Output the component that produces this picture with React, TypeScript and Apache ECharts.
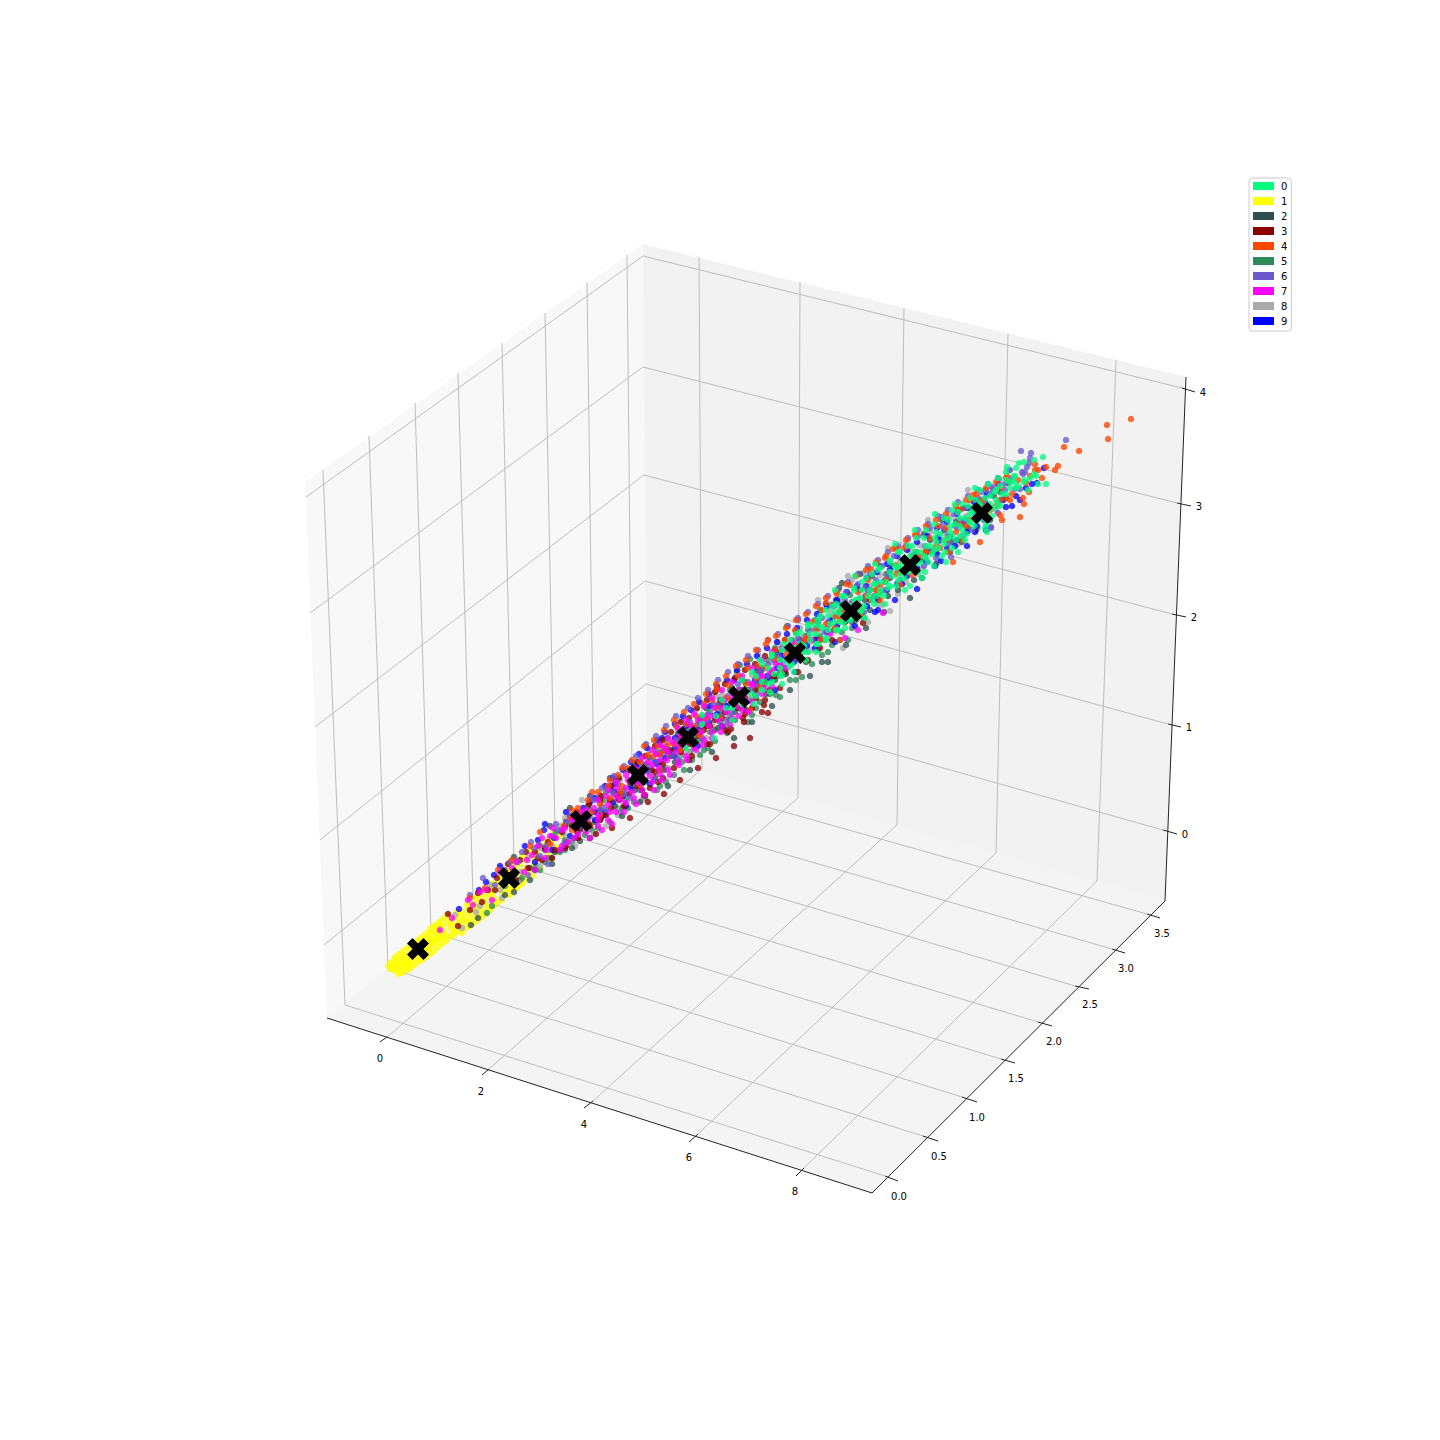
import React, { useEffect, useRef } from "react";
import * as echarts from "echarts";

const legendNames = ["0", "1", "2", "3", "4", "5", "6", "7", "8", "9"];
const clusterColors = ["#00ff7f", "#ffff00", "#2f4f4f", "#8b0000", "#ff4500", "#2e8b57", "#6a5acd", "#ff00ff", "#a9a9a9", "#0000ff"];
const drawOrder = [1, 5, 8, 2, 9, 3, 6, 4, 7, 0];

const xTickLabels = ["0", "2", "4", "6", "8"];
const yTickLabels = ["0.0", "0.5", "1.0", "1.5", "2.0", "2.5", "3.0", "3.5"];
const zTickLabels = ["0", "1", "2", "3", "4"];

// All points are projected picture coordinates (x, y pairs).
const cluster0 = [1043,457,1019,463,1007,467,1046,484,1014,476,1014,482,987,532,1030,478,1024,480,1036,476,1010,488,1002,494,996,500,1000,506,990,504,984,510,992,516,978,520,972,512,966,518,974,526,960,526,966,534,956,540,950,532,944,540,952,548,938,548,932,554,942,556,926,546,920,552,928,562,914,560,908,566,918,572,902,560,896,568,904,578,892,576,886,582,896,586,880,590,874,584,884,596,868,596,862,590,874,604,856,600,850,606,860,612,846,614,840,608,850,620,834,622,828,616,838,630,822,628,816,634,826,640,810,640,804,646,816,652,798,650,792,656,806,660,786,662,780,668,794,672,774,674,768,668,782,684,762,682,756,676,770,692,746,690,738,700,754,704,726,708,716,716,732,720,702,724,692,736,714,738,686,748,985,498,976,500,968,506,958,512,948,520,936,532,924,538,912,546,900,552,890,562,878,570,866,578,854,588,842,596,832,606,820,616,808,624,796,634,784,644,772,654,760,660,996,490,1006,480,982,516,970,522,960,536,948,538,936,542,924,556,912,570,900,574,888,588,876,596,864,606,852,614,840,622,828,630,816,644,804,652,792,664,780,676,768,684,756,696,744,704,732,708,1018,486,1028,490,1038,484,994,508,986,524,958,552,946,562,934,566,922,578,910,586,
702,715,722,700,742,680,742,704,752,672,752,694,762,664,762,690,772,656,772,682,782,650,782,674,790,640,790,666,800,632,800,658,808,626,808,652,818,620,818,644,826,610,826,638,836,604,836,630,844,596,844,622,854,590,854,616,862,582,862,610,872,574,872,600,880,568,880,594,890,560,890,586,898,552,898,580,908,546,908,572,916,538,916,564,926,530,926,558,934,524,934,550,944,518,944,544,952,510,952,536,962,504,962,530,970,498,970,522,980,490,980,516,988,484,988,510,998,478,998,504,1006,472,1006,494,1016,468,1016,488,1024,462,1024,482,1034,460,1034,474,795,648,815,625,835,612,855,600,875,584,895,566,915,552,935,538,955,524,975,508,995,492,1015,476,
780,660,790,650,800,644,810,634,820,626,830,624,840,614,850,612,860,598,870,590,880,582,890,572,900,566,910,556,920,562,930,546,940,534,950,526,960,518,970,514,980,504,990,496,1000,486,1010,482,845,628,865,618,885,604,905,590,925,572,945,552,965,540,985,528,835,590,855,576,875,564,895,544,915,530,935,514,955,504,975,488];
const cluster1 = [392,966,395,962,396,968,398,960,400,965,401,958,403,962,405,967,405,955,408,959,409,964,410,952,412,956,413,961,415,948,416,953,417,958,419,944,420,950,421,955,423,941,424,946,425,952,427,938,428,943,429,949,431,934,432,940,433,945,435,931,436,937,437,942,439,928,440,934,441,939,393,970,397,971,402,969,407,962,411,966,414,951,418,946,422,949,426,941,430,937,434,928,438,933,443,925,444,931,446,935,448,922,450,927,451,920,453,925,455,931,456,917,458,922,460,915,461,926,463,912,464,918,466,922,468,908,469,914,471,904,472,910,474,917,476,903,477,908,479,898,480,905,482,911,484,895,485,901,487,906,489,891,490,897,492,886,493,893,495,899,497,883,498,889,500,880,501,888,503,893,505,876,506,883,508,888,510,872,511,879,513,885,515,868,516,875,518,881,520,864,521,871,523,877,525,860,527,868,529,873,532,857,534,864,537,851,541,858,545,845,548,853,552,841,556,847,560,836,565,842,571,822,577,830,585,816,592,822,602,800,610,806,622,790,
444,938,448,916,452,932,457,912,462,920,467,905,470,920,475,897,478,914,483,890,486,912,491,883,494,904,499,876,502,900,507,870,510,895,514,862,517,888,522,856,525,880,530,850,533,876,538,846,541,868,546,840,550,860,555,832,558,852,563,826,390,969,394,966,399,963,404,959,406,964,409,957,414,957,418,952,422,943,426,947,430,943,434,940,438,938,440,926,396,964,400,970,
388,966,391,962,395,957,399,954,403,951,407,948,410,946,414,943,417,941,420,938,424,935,428,932,431,928,435,925,439,922,443,919,447,915,398,974,402,973,406,970,410,969,414,965,418,962,422,960,426,957,430,954,434,951,438,947,442,944,446,941,450,937,454,935,458,931,462,933,466,928,470,926,474,923,478,920,482,917,486,914,490,910,494,906,498,902,502,897,506,892,510,890,514,888,518,886,522,884];
const cluster2 = [471,925,514,857,514,892,530,868,545,850,552,864,566,822,572,848,588,806,590,838,580,841,612,790,622,816,636,766,644,796,660,744,668,786,680,732,690,770,700,718,712,752,720,700,734,738,742,680,752,722,762,668,772,706,780,652,790,690,800,640,810,676,818,622,828,662,836,600,842,583,839,588,846,645,854,606,860,590,866,628,872,576,878,600,884,612,892,566,898,590,904,572,910,598,916,552,922,578,930,540,936,564,944,530,950,552,956,522,962,542,970,508,976,530,984,500,990,520,1000,492,1008,483,1006,498,975,510,925,560,885,582,865,600,845,610,822,662,815,640,795,652,775,680,755,695,735,712,715,730,695,742,675,762,655,778,635,790,615,806,595,822,575,838,555,852,535,870,505,878,
560,850,580,830,600,812,618,798,634,776,650,758,664,770,678,734,692,744,706,708,718,728,732,688,746,710,756,672,766,694,776,654,786,674,796,632,806,662,816,638,826,604,834,630,844,604,852,622,860,574,870,610,880,566,888,596,896,548,904,560,914,580,924,534,932,550,942,520,952,542,958,510,968,528,982,504,994,496,640,802,610,778,590,796,570,808,550,826,478,918,505,895,530,880,
800,654,820,640,840,612,860,606,880,592,900,572,920,560,940,540,960,522,980,512,850,612,870,590,890,578,910,564,930,552,780,664,760,682,740,700,720,714,700,734,680,748,660,762,640,778,620,794,600,810];
const cluster3 = [448,914,478,893,488,890,497,878,512,874,520,860,528,868,535,852,542,860,548,842,555,850,562,832,566,846,572,826,578,838,584,814,590,826,596,834,600,800,606,815,612,828,618,795,624,806,630,818,636,776,642,790,648,802,652,770,658,782,664,794,668,752,674,768,680,780,686,742,692,756,698,768,704,730,710,744,716,758,722,718,728,732,734,746,738,708,744,722,750,738,756,698,762,712,768,713,764,705,743,718,752,708,731,729,717,689,772,676,780,688,790,660,798,672,808,660,820,648,832,640,845,622,862,612,870,600,963,508,863,623,832,605,610,800,630,782,650,788,670,750,690,744,710,726,730,720,748,690,770,690,
565,826,565,848,577,812,577,832,589,804,589,824,601,796,601,818,611,786,611,808,619,778,619,800,629,770,629,794,637,762,637,786,645,756,645,780,645,795,655,746,655,772,663,740,663,764,663,778,671,732,671,756,681,722,681,752,689,718,689,742,689,760,697,708,697,736,707,700,707,726,707,744,715,692,715,720,725,684,725,712,725,730,735,678,735,704,745,670,745,698,745,714,755,664,755,690,765,656,765,684,765,700,775,650,775,676,785,640,785,672,458,926,470,910,482,902,495,890,508,864,516,880,526,852,538,858,545,848,552,858,
580,828,600,820,620,796,640,778,660,754,680,738,700,722,720,704,740,690,760,672,780,660,800,656];
const cluster4 = [1131,419,1107,425,1108,439,1064,447,1079,451,1058,466,1055,470,1046,467,1035,464,1035,470,1038,470,1042,478,1029,492,1023,498,1024,504,1020,517,1002,520,1007,476,973,495,1018,480,980,542,953,562,893,549,871,569,837,594,826,603,915,535,1030,476,1026,483,1012,494,1000,488,990,510,982,500,970,520,960,510,948,552,938,526,930,538,925,552,915,558,904,548,896,565,885,558,878,592,868,580,858,592,850,585,842,610,835,628,822,610,812,622,805,640,795,630,785,640,775,650,768,640,758,666,748,668,738,676,728,685,717,689,712,700,704,704,696,716,686,724,676,726,668,744,658,746,648,755,640,762,628,768,618,775,608,786,598,792,588,800,578,808,570,818,564,826,1010,500,1000,515,986,506,912,575,900,585,880,600,860,615,840,640,772,672,750,710,730,700,700,735,680,750,660,770,640,785,620,798,600,815,946,528,962,540,970,500,
572,810,572,830,592,792,592,812,610,780,610,798,622,768,622,786,632,760,632,780,644,746,644,768,654,740,654,756,664,730,664,750,674,720,674,744,684,712,684,736,694,704,694,726,706,694,706,718,716,684,716,708,726,676,726,698,736,666,736,692,746,660,746,684,756,650,756,678,766,644,766,668,776,636,776,660,786,628,786,654,796,620,796,646,806,614,806,638,816,606,816,630,826,598,826,624,836,592,836,616,846,584,846,610,856,576,856,602,866,570,866,596,876,562,876,590,886,556,886,580,896,548,896,574,906,540,906,568,916,534,916,560,926,526,926,552,936,520,936,546,946,514,946,540,956,506,956,532,966,500,966,526,976,494,976,520,986,488,986,512,996,482,996,506,1006,478,1006,498,470,898,485,888,498,870,512,860,530,846,540,832,550,844,
580,816,600,804,620,792,640,770,660,754,680,746,700,732,720,718,740,700,760,686,780,668,800,652,820,640,840,620,860,608,880,586,900,570,920,556,940,548,960,524,980,516,1000,500];
const cluster5 = [487,913,505,886,522,878,536,866,548,858,560,852,572,842,585,835,598,828,610,822,622,808,634,802,645,798,657,790,666,782,674,775,684,770,692,760,700,755,708,748,715,741,727,733,735,720,744,708,752,715,760,702,770,694,780,697,790,680,802,677,812,664,822,655,832,645,842,632,848,640,856,620,540,846,556,832,570,824,590,810,606,792,618,778,630,786,646,766,656,752,668,738,678,750,690,728,700,740,710,712,720,722,730,690,737,672,740,665,750,659,758,690,768,660,778,676,787,626,792,640,805,636,815,620,825,640,838,602,850,595,775,648,760,672,745,682,725,705,705,725,685,748,665,768,645,782,625,800,605,815,585,820,565,840,545,862,800,660,820,610,833,618,790,655,770,680,750,700,730,716,710,732,690,752,
565,850,578,826,592,830,604,800,616,792,628,808,640,790,650,770,660,786,672,752,682,762,694,740,704,750,716,718,726,726,736,700,748,722,756,708,766,680,776,695,786,668,796,680,808,630,818,650,828,652,840,640,852,628,864,618,874,596,886,574,492,906,520,880,540,870,552,858,
600,820,620,812,640,772,660,770,680,756,700,724,720,708,740,700,760,686,780,672,800,650,820,636];
const cluster6 = [1066,440,1021,451,1031,453,1030,458,1029,463,1027,467,1025,472,1022,472,1023,474,1009,470,999,479,981,492,992,487,993,489,990,494,1015,489,1020,489,998,513,991,527,798,620,942,517,991,528,951,557,531,842,505,870,518,862,534,848,546,846,558,830,570,816,582,826,594,800,606,810,618,784,630,798,642,764,654,780,666,746,678,760,690,722,702,738,714,704,726,720,738,684,750,690,762,670,774,660,786,648,798,638,810,630,822,618,834,606,846,592,858,584,870,574,882,566,894,556,906,546,918,536,930,528,942,526,954,514,966,508,978,498,986,490,1004,484,1012,478,1000,500,984,520,972,530,960,520,948,544,936,558,924,566,912,556,900,580,888,574,876,580,864,612,852,602,840,616,828,626,816,628,804,642,792,646,780,660,768,676,756,684,744,694,732,712,720,716,708,720,696,732,684,740,672,756,660,752,648,772,636,782,624,794,612,792,600,812,588,818,576,820,564,844,552,836,540,856,963,536,975,515,955,526,925,546,905,562,885,590,865,588,845,600,
566,822,566,842,578,816,590,796,590,816,602,788,602,806,614,776,614,794,624,766,624,790,636,756,636,776,646,744,646,764,656,736,656,762,666,726,666,752,676,716,676,740,688,708,688,732,698,698,698,724,708,690,708,714,718,680,718,706,728,672,728,696,738,664,738,690,748,656,748,682,758,650,758,672,768,640,768,664,778,634,778,656,788,626,788,650,798,618,798,642,808,612,808,636,818,604,818,628,828,596,828,622,838,590,838,614,848,582,848,606,858,574,858,600,868,566,868,592,878,560,878,584,888,552,888,578,898,546,898,570,908,538,908,564,918,530,918,556,928,524,928,550,938,516,938,542,948,510,948,536,958,502,958,528,968,496,968,522,978,490,978,514,988,484,988,508,998,478,998,502,470,895,483,878,495,885,510,862,522,852,528,875,539,845,548,864,556,824,
805,650,825,632,845,620,865,596,885,580,905,570,925,556,945,530,965,520,985,502,1005,490,1010,470];
const cluster7 = [440,930,468,900,486,890,500,872,512,868,524,872,532,855,538,846,545,858,550,836,556,838,560,850,565,828,568,842,572,820,578,834,582,812,585,826,590,838,594,808,598,820,602,830,606,796,610,812,612,824,617,788,620,800,624,812,628,780,632,792,636,804,638,770,641,783,644,795,648,762,650,776,654,790,656,754,659,768,662,780,664,748,667,760,670,775,673,742,676,752,679,765,681,735,684,746,687,760,690,725,693,738,696,750,698,720,701,732,703,745,706,716,709,726,712,738,715,708,718,720,721,732,724,700,727,712,730,724,733,694,736,706,739,716,742,690,745,700,748,712,752,684,756,695,760,676,764,688,770,672,776,664,785,668,795,650,812,640,830,634,883,613,858,630,845,638,
562,830,562,846,574,818,574,838,586,810,586,832,586,820,598,800,598,815,598,826,608,790,608,805,608,820,616,782,616,796,616,812,626,775,626,788,626,803,634,768,634,782,634,798,642,758,642,775,642,790,652,750,652,765,652,782,660,745,660,760,660,774,668,738,668,752,668,770,678,728,678,745,678,762,686,720,686,738,686,756,694,714,694,730,694,748,704,706,704,722,704,740,712,698,712,716,712,732,722,690,722,708,722,726,732,682,732,700,732,718,742,676,742,692,742,710,752,668,752,685,752,702,762,660,762,676,762,694,772,652,772,670,772,686,782,648,782,664,792,642,792,658,452,918,473,905,480,892,492,900,505,882,516,862,527,860,535,870,542,838,547,850,553,828];
const cluster8 = [455,915,462,928,476,912,490,885,502,898,518,882,528,858,540,866,552,846,564,834,575,846,586,826,596,812,608,800,618,815,628,795,638,785,646,745,652,765,662,752,672,740,682,755,692,735,702,715,712,725,722,695,732,708,742,692,752,675,762,688,772,662,782,676,792,650,802,638,812,650,822,630,832,615,843,648,852,580,863,573,868,622,876,590,882,605,890,611,898,570,906,582,914,555,922,568,927,530,936,552,946,534,956,520,966,516,976,506,986,495,996,510,680,720,700,702,720,690,740,676,760,660,780,645,800,628,820,614,840,598,860,598,880,575,900,560,920,545,940,535,960,538,640,760,620,780,600,795,580,812,560,826,540,848,520,872,500,890,480,906,
565,818,582,800,594,834,606,826,616,808,630,772,642,800,650,750,668,768,678,730,688,752,696,710,706,738,716,696,726,716,736,676,748,696,758,654,768,690,778,642,788,668,798,620,808,652,818,600,828,632,838,624,848,576,858,618,868,568,878,604,888,548,898,594,908,540,918,574,928,520,938,560,948,516,958,544,968,490,978,528,988,505,998,490,
790,662,810,642,830,624,850,604,870,586,890,566,910,550,930,532,950,518,970,500,830,610];
const cluster9 = [545,824,486,882,479,890,459,909,494,875,538,840,1044,468,1037,483,1032,484,1026,488,1003,500,1012,506,1006,507,967,546,917,589,941,561,554,838,566,812,578,826,590,802,602,816,614,792,626,806,638,764,650,784,662,738,674,756,686,726,698,746,710,706,722,726,734,680,746,702,758,668,770,678,782,656,794,662,806,640,818,628,830,620,842,606,854,610,866,586,878,610,890,570,902,584,914,562,926,552,938,538,950,536,962,524,974,502,986,530,998,484,1016,496,975,532,955,546,935,566,895,600,875,612,855,626,835,642,815,648,795,672,775,690,755,680,735,694,715,716,695,728,675,738,655,762,635,780,615,784,595,812,575,820,1020,500,
570,816,570,836,583,808,595,798,595,820,605,786,605,812,613,778,613,802,623,770,623,796,631,762,631,788,639,754,639,780,647,748,647,770,657,740,657,764,665,732,665,758,675,724,675,748,683,716,683,744,691,710,691,736,699,702,699,730,709,694,709,722,717,686,717,714,727,680,727,706,737,670,737,700,747,664,747,690,757,656,757,684,767,648,767,676,777,642,777,668,787,634,787,660,797,628,797,654,807,620,807,646,817,614,817,640,827,606,827,632,837,600,837,626,847,592,847,620,857,586,857,612,867,578,867,606,877,572,877,598,887,564,887,590,897,556,897,584,907,550,907,576,917,542,917,568,927,536,927,562,937,528,937,554,947,522,947,548,957,514,957,540,967,508,967,532,977,500,977,526,987,494,987,518,500,866,515,874,525,846,535,862,544,830,552,850];

const centroidX = [418, 509, 581, 638, 688, 739, 795, 851, 910, 982];
const centroidY = [949, 878, 821, 775, 737, 697, 653, 611, 565, 513];

// Wall and floor quadrilaterals of the 3D box, as projected on the page.
const paneLeft = [305, 482, 643, 244, 647, 757, 327, 1018];
const paneBack = [643, 244, 1186, 377, 1165, 901, 647, 757];
const paneFloor = [327, 1018, 647, 757, 1165, 901, 872, 1193];

const gridSegments = [
  [323,470,345,1005],[369,436,388,968],[415,403,431,932],[458,373,473,898],[502,343,514,864],[545,313,555,831],[587,282,594,799],[627,255,632,769],
  [646,684,324,945],[645,581,320,840],[644,475,315,727],[643,367,310,613],[643,256,306,497],
  [699,257,702,769],[800,282,798,798],[904,308,897,825],[1008,334,996,853],[1116,360,1097,881],
  [646,684,1163,830],[645,581,1168,724],[644,475,1172,614],[643,367,1177,503],[643,256,1182,388],
  [387,1037,702,769],[489,1069,798,798],[593,1101,897,825],[698,1134,996,853],[804,1168,1097,881],
  [345,1005,885,1176],[388,968,923,1136],[431,932,962,1097],[473,898,1001,1059],[514,864,1038,1022],[555,831,1075,986],[594,799,1112,949],[632,769,1147,914],
];
const axisSegments = [[327,1018,872,1193],[872,1193,1165,901],[1165,901,1186,377]];
const tickSegments = [
  [380,1042,387,1037],[482,1075,489,1069],[584,1108,593,1101],[689,1142,698,1134],[796,1176,804,1168],
  [885,1176,898,1181],[923,1136,938,1141],[962,1097,977,1102],[1001,1059,1015,1063],[1038,1022,1052,1026],[1075,986,1089,989],[1112,949,1125,953],[1147,914,1160,918],
  [1163,830,1177,834],[1168,724,1181,727],[1172,614,1186,617],[1177,503,1191,506],[1182,388,1195,392],
];
const tickLabelPoints = [
  [380,1058],[481,1091],[584,1124],[689,1157],[795,1191],
  [899,1196],[939,1156],[977,1117],[1016,1078],[1054,1041],[1090,1004],[1126,968],[1162,933],
  [1185,834],[1189,727],[1194,617],[1199,506],[1203,392],
];
const tickLabelTexts = [...xTickLabels, ...yTickLabels, ...zTickLabels];

const clusters = [cluster0, cluster1, cluster2, cluster3, cluster4, cluster5, cluster6, cluster7, cluster8, cluster9];
const X_SYMBOL = "path://M-1 -2L0 -1L1 -2L2 -1L1 0L2 1L1 2L0 1L-1 2L-2 1L-1 0L-2 -1Z";

function toPairs(flat: number[]) {
  const out: number[][] = [];
  for (let i = 0; i + 1 < flat.length; i += 2) out.push([flat[i], flat[i + 1]]);
  return out;
}

function paneSeries(values: number[], fill: string) {
  return {
    type: "custom", silent: true, clip: false, z: 1, animation: false,
    data: [values],
    encode: { x: [0, 2, 4, 6], y: [1, 3, 5, 7] },
    renderItem: (_: any, api: any) => {
      const points = [0, 2, 4, 6].map((i) => api.coord([api.value(i), api.value(i + 1)]));
      return { type: "polygon", shape: { points }, style: { fill, stroke: null } };
    },
  };
}

function segmentSeries(data: number[][], stroke: string, lineWidth: number, z: number) {
  return {
    type: "custom", silent: true, clip: false, z, animation: false,
    data,
    encode: { x: [0, 2], y: [1, 3] },
    renderItem: (_: any, api: any) => {
      const a = api.coord([api.value(0), api.value(1)]);
      const b = api.coord([api.value(2), api.value(3)]);
      return { type: "line", shape: { x1: a[0], y1: a[1], x2: b[0], y2: b[1] }, style: { stroke, lineWidth, fill: null } };
    },
  };
}

export default function App() {
  const ref = useRef<HTMLDivElement>(null);
  useEffect(() => {
    const chart = echarts.init(ref.current!, undefined, { renderer: "svg" });
    chart.setOption({
      animation: false,
      backgroundColor: "#ffffff",
      grid: { left: 0, right: 0, top: 0, bottom: 0 },
      xAxis: { type: "value", min: 0, max: 1440, show: false },
      yAxis: { type: "value", min: 0, max: 1440, inverse: true, show: false },
      legend: {
        data: legendNames,
        orient: "vertical",
        left: 1249,
        top: 178,
        padding: [2, 4, 4, 4],
        itemWidth: 21,
        itemHeight: 8,
        itemGap: 3,
        icon: "rect",
        selectedMode: false,
        borderColor: "#cccccc",
        borderWidth: 1,
        borderRadius: 3,
        backgroundColor: "#ffffff",
        itemStyle: { opacity: 1 },
        textStyle: { fontFamily: "DejaVu Sans", fontSize: 10, color: "#000000", lineHeight: 12, padding: [0, 0, 0, 2] },
      },
      series: [
        paneSeries(paneLeft, "#f8f8f8"),
        paneSeries(paneBack, "#f2f2f2"),
        paneSeries(paneFloor, "#f4f4f4"),
        segmentSeries(gridSegments, "#bdbdbd", 1, 2),
        segmentSeries(axisSegments, "#222222", 1, 2),
        segmentSeries(tickSegments, "#222222", 1, 2),
        ...drawOrder.map((i) => ({
          type: "scatter",
          name: legendNames[i],
          data: toPairs(clusters[i]),
          symbol: "circle",
          symbolSize: 6.5,
          itemStyle: { color: clusterColors[i], opacity: 0.78 },
          silent: true,
          clip: false,
          z: 3,
        })),
        {
          type: "scatter",
          name: "centroids",
          data: centroidX.map((x, i) => [x, centroidY[i]]),
          symbol: X_SYMBOL,
          symbolSize: 22,
          itemStyle: { color: "#000000", opacity: 1 },
          silent: true,
          clip: false,
          z: 4,
        },
        {
          type: "custom", silent: true, clip: false, z: 5, animation: false,
          data: tickLabelPoints,
          encode: { x: 0, y: 1 },
          renderItem: (params: any, api: any) => {
            const p = api.coord([api.value(0), api.value(1)]);
            return {
              type: "text",
              style: {
                text: tickLabelTexts[params.dataIndex], x: p[0], y: p[1],
                align: "center", verticalAlign: "middle",
                fontFamily: "DejaVu Sans", fontSize: 10, fill: "#000000",
              },
            };
          },
        },
      ],
    });
    return () => chart.dispose();
  }, []);
  return <div ref={ref} style={{ position: "absolute", left: 0, top: 0, width: 1440, height: 1440 }} />;
}
